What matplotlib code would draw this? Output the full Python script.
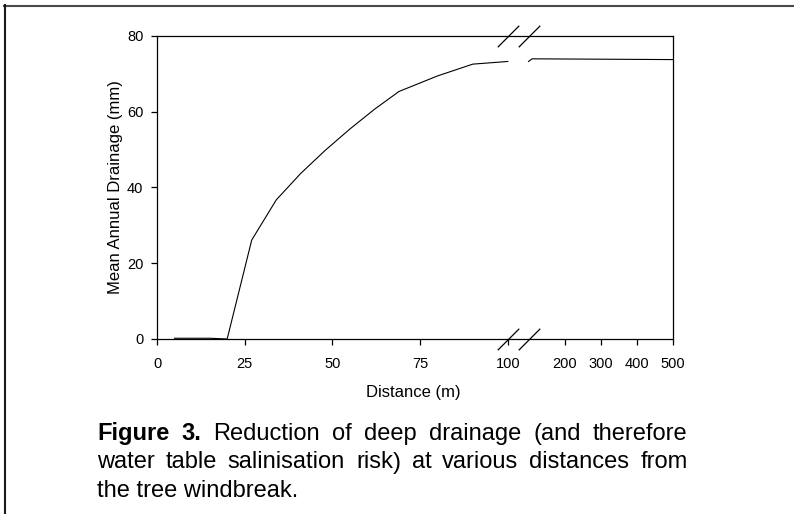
import numpy as np
import matplotlib
matplotlib.use('Agg')
import matplotlib.pyplot as plt
from matplotlib.lines import Line2D

plt.rcParams['font.family'] = 'Liberation Sans'

# drainage vs distance, near segment (0 - 100 m) and far segment (100 - 500 m)
dist_near = [5, 15, 20, 27, 34, 41, 48, 55, 62, 69, 80, 90, 100]
drain_near = [0.2, 0.2, 0.0, 26.1, 36.7, 43.7, 49.8, 55.4, 60.6, 65.3, 69.4, 72.5, 73.2]
dist_far = [100, 110, 500]
drain_far = [73.2, 73.9, 73.7]

near_ticks = [0, 25, 50, 75, 100]
far_ticks = [200, 300, 400, 500]
y_ticks = [0, 20, 40, 60, 80]

caption_lines = [
    "Figure 3. Reduction of deep drainage (and therefore",
    "water table salinisation risk) at various distances from",
    "the tree windbreak.",
]
bold_words = ["Figure", "3."]

W, H = 794.0, 514.0

def fx(px):
    return px / W

def fy(py):
    return 1.0 - py / H

fig = plt.figure(figsize = (W / 100.0, H / 100.0), dpi = 100)

# frame axes: carries the box and the y axis
y0, y1 = 339.0, 35.7
ax = fig.add_axes([fx(157), fy(y0), fx(673) - fx(157), fy(y1) - fy(y0)])
ax.set_ylim(0, 80)
ax.set_xticks([])
ax.set_yticks(y_ticks)
for s in ax.spines.values():
    s.set_linewidth(0.9)
ax.tick_params(axis = 'y', direction = 'out', length = 4.3, width = 0.9, pad = 5.5, labelsize = 10.5)

# two data axes for the broken x scale
ax_l = fig.add_axes([fx(157), fy(y0), fx(507.8) - fx(157), fy(y1) - fy(y0)])
ax_r = fig.add_axes([fx(528.5), fy(y0), fx(673) - fx(528.5), fy(y1) - fy(y0)])
for a, lo, hi, ticks in [(ax_l, 0, 100, near_ticks), (ax_r, 100, 500, far_ticks)]:
    a.set_xlim(lo, hi)
    a.set_ylim(0, 80)
    a.patch.set_visible(False)
    for s in a.spines.values():
        s.set_visible(False)
    a.set_yticks([])
    a.set_xticks(ticks)
    a.tick_params(axis = 'x', direction = 'out', length = 4.3, width = 0.9, pad = 8.4, labelsize = 10.5)

ax_l.plot(dist_near, drain_near, color = 'black', linewidth = 0.8, clip_on = False)
ax_r.plot(dist_far, drain_far, color = 'black', linewidth = 0.8, clip_on = False)

# break marks at the join of the two scales
for a in (ax_l, ax_r):
    a.plot([100, 100], [0, 1], transform = a.get_xaxis_transform(), linestyle = 'none',
        marker = [(-1, -1), (1, 1)], markersize = 15.5, markeredgewidth = 0.9,
        color = 'black', clip_on = False, zorder = 10)

fig.text(fx(413), fy(397.3), "Distance (m)", ha = 'center', va = 'baseline', fontsize = 12)
fig.text(fx(120), fy(187), "Mean Annual Drainage (mm)", rotation = 90, rotation_mode = 'anchor',
    ha = 'center', va = 'baseline', fontsize = 12)

# caption, justified over the first two lines
cap_left, cap_right = 97.0, 687.5
baselines = [440.0, 468.5, 497.0]
cap_size = 17
renderer = fig.canvas.get_renderer()
for i, line in enumerate(caption_lines):
    words = line.split(' ')
    if i == len(caption_lines) - 1:
        fig.text(fx(cap_left), fy(baselines[i]), line, ha = 'left', va = 'baseline', fontsize = cap_size)
        continue
    # each word may be drawn in pieces (a closing bracket on its own sits better)
    groups = []
    for k, w in enumerate(words):
        bold = (i == 0 and k < 2 and w in bold_words)
        pieces = [w[:-1], w[-1]] if w.endswith(')') else [w]
        group = []
        for p in pieces:
            t = fig.text(0, fy(baselines[i]), p, ha = 'left', va = 'baseline', fontsize = cap_size,
                fontweight = 'bold' if bold else 'normal')
            group.append((t, t.get_window_extent(renderer).width))
        groups.append(group)
    total = sum(wd for g in groups for _, wd in g)
    gap = (cap_right - cap_left - total) / (len(groups) - 1)
    x = cap_left
    for g in groups:
        for t, wd in g:
            t.set_x(fx(x))
            x += wd
        x += gap

# outer frame (top and left edges visible)
fig.add_artist(Line2D([fx(4), 1.0], [fy(5.6), fy(5.6)], color = '#4a4a4a', linewidth = 1.5))
fig.add_artist(Line2D([fx(5.1), fx(5.1)], [fy(4.9), 0.0], color = '#1a1a1a', linewidth = 1.5))

plt.savefig('out.png', dpi = 100)
